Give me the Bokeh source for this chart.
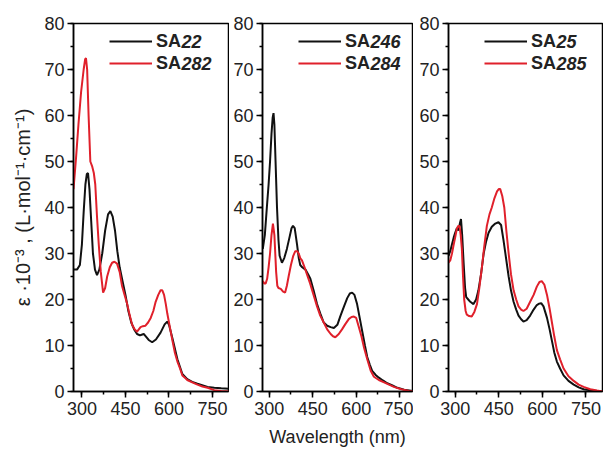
from bokeh.plotting import figure
from bokeh.layouts import row
from bokeh.models import Range1d, SingleIntervalTicker, Legend, LegendItem, Label
from bokeh.embed import file_html
from bokeh.resources import INLINE

# ---------------- data ----------------
sa22_x = [271, 283, 293, 300, 306, 312, 317, 321, 326, 332, 338, 345, 352, 360, 370, 380, 390, 398,
          406, 414, 422, 430, 440, 450, 460, 470, 480, 490, 500, 508, 513, 520, 530, 542, 555, 571,
          585, 594, 600, 612, 629, 646, 663, 680, 698, 733, 756, 780, 806]
sa22_y = [26.5, 26.5, 27.5, 32, 39, 45, 47.3, 47.5, 44, 37, 30, 26.5, 25.3, 26.5, 30, 35, 38.5, 39.2,
          38, 35, 30.5, 27, 24, 21, 17.5, 15, 13.5, 12.5, 12.2, 12.4, 12.5, 12, 11.2, 10.7, 11.3, 12.8,
          14.6, 15.2, 14.5, 11.5, 7, 3.8, 2.7, 2.1, 1.7, 1.0, 0.8, 0.7, 0.6]

sa282_x = [271, 280, 288, 297, 306, 311, 314, 318, 323, 329, 335, 341, 346, 352, 358, 365, 373, 380,
           387, 396, 404, 412, 421, 430, 438, 447, 456, 465, 473, 482, 490, 496, 502, 510, 519, 528,
           537, 546, 554, 563, 571, 577, 583, 589, 594, 603, 612, 620, 629, 638, 646, 655, 663, 680,
           698, 715, 733, 756, 780, 806]
sa282_y = [44, 51, 58, 65, 70, 72.2, 72.5, 70, 60, 50, 49, 47.5, 45, 38, 32, 26, 21.5, 22.5,
           25, 27, 28, 28.2, 27.8, 26, 23, 21, 19, 16.5, 14.5, 13.5, 13, 13.5, 14, 14.2, 14.3, 15,
           16, 17.5, 19.5, 21, 22, 22, 21, 19, 17, 14, 11, 8.5, 6.5, 5, 3.5, 3, 2.5, 2,
           1.5, 1.1, 0.8, 0.3, 0.1, 0]

sa246_x = [278, 285, 292, 298, 303, 308, 312, 315, 318, 322, 327, 332, 336, 344, 352, 361, 370, 377,
           382, 388, 396, 402, 407, 414, 425, 434, 442, 453, 465, 476, 488, 500, 512, 523, 535, 546,
           558, 569, 578, 586, 594, 603, 612, 621, 630, 638, 647, 655, 667, 678, 692, 707, 725, 742,
           765, 795]
sa246_y = [31, 34, 40, 45, 50, 56, 59.5, 60.5, 58, 50, 40, 33, 29.5, 28, 29, 31, 33.5, 35.5,
           36, 35.5, 32, 29, 27.5, 27, 26.5, 25.5, 24.5, 22, 19, 17, 15, 14.3, 14, 13.8, 14.5, 16.5,
           18.5, 20.3, 21.3, 21.5, 21, 19, 16, 13, 10, 7.5, 5.8, 4.5, 3.6, 3, 2.4, 1.8, 1.3, 0.8,
           0.4, 0.1]

sa284_x = [278, 283, 288, 293, 298, 303, 308, 313, 318, 324, 328, 332, 340, 348, 355, 361, 367, 375,
           383, 390, 396, 402, 407, 413, 422, 430, 441, 453, 465, 476, 488, 500, 512, 520, 528, 540,
           551, 563, 575, 584, 592, 600, 609, 618, 627, 638, 650, 661, 678, 696, 713, 730, 755, 782,
           795]
sa284_y = [24, 23.5, 23.5, 24.5, 27, 30, 34, 36.5, 34, 26, 23, 22.5, 22.3, 21.7, 21.5, 23, 25, 27.5,
           29.5, 30.5, 30.5, 30, 29, 28.5, 27, 25.5, 23.5, 21, 18.5, 16.5, 15, 13.5, 12.5, 12, 11.8, 12.5,
           13.5, 14.7, 15.8, 16.2, 16.3, 16, 14, 12, 9.5, 7, 4.5, 3.2, 2.5, 2, 1.5, 1, 0.5, 0.1,
           0]

sa25_x = [277, 283, 289, 295, 300, 306, 311, 316, 320, 324, 329, 334, 338, 345, 352, 363, 372, 380,
          389, 398, 406, 415, 426, 438, 449, 458, 466, 475, 484, 492, 501, 510, 518, 527, 535, 546,
          558, 570, 581, 589, 596, 604, 616, 625, 633, 641, 650, 661, 673, 690, 708, 725, 742, 765,
          788, 807]
sa25_y = [29.5, 30.5, 32, 33.5, 34.5, 35.5, 35, 36.5, 37.5, 34, 28, 22.5, 20.5, 20, 19.5, 19, 20, 22,
          25.5, 30, 32.5, 34.5, 35.8, 36.5, 36.8, 36.2, 33, 29, 25, 22, 19.5, 17.8, 16.5, 15.7, 15.2, 15.5,
          16.5, 17.8, 18.8, 19.1, 19.2, 18.5, 16, 13.5, 11, 8.5, 6.5, 5, 3.5, 2.3, 1.5, 0.9, 0.5, 0.25,
          0.1, 0]

sa285_x = [277, 283, 289, 295, 300, 306, 311, 315, 319, 323, 327, 331, 336, 340, 348, 357, 366, 375,
           383, 392, 400, 409, 418, 426, 435, 444, 450, 455, 462, 469, 476, 484, 492, 501, 510, 518,
           527, 535, 546, 558, 570, 581, 590, 598, 607, 616, 625, 633, 641, 650, 661, 673, 690, 708,
           725, 742, 765, 788, 807]
sa285_y = [28, 28.5, 30, 32, 33.5, 35.5, 36, 36, 34, 31, 25, 20, 17.5, 16.7, 16.4, 16.3, 17.3, 19,
           22.5, 27, 31.5, 36, 38.5, 40, 42, 43.5, 44, 44, 42.5, 40, 35, 30, 25.5, 22, 20, 18.5,
           17.8, 17.5, 18, 19.5, 21, 22.8, 23.8, 24, 23.2, 21, 18, 15, 12, 9, 7, 5, 3.3, 2.3,
           1.5, 1, 0.5, 0.2, 0]

x_ranges = [(271, 805), (277, 794), (277, 807)]
y_range = (0, 80)
names = [("SA", "22", "SA", "282"), ("SA", "246", "SA", "284"), ("SA", "25", "SA", "285")]
series = [(sa22_x, sa22_y, sa282_x, sa282_y),
          (sa246_x, sa246_y, sa284_x, sa284_y),
          (sa25_x, sa25_y, sa285_x, sa285_y)]

y_label = "ε ·10⁻³ , (L·mol⁻¹·cm⁻¹)"
x_label = "Wavelength (nm)"

# ---------------- styling / layout ----------------
FONT = "Liberation Sans"
BLACK = "#111111"
RED = "#e0202b"
TXT = "#222222"
FRAME_H = 368
TOP, BOTTOM = 23, 60
# (figure width, border left, frame width)
geoms = [(229, 73, 155), (184, 33, 150), (190, 35, 154)]

LEG_X = 36
GLYPH_W = 43
STANDOFF = 4
ROW_H = 22
LEG_TOP = 7
SA_W = 25.0  # width of bold "SA" at 18px

figs = []
for i in range(3):
    W, bl, fw = geoms[i]
    p = figure(width=W, height=TOP + FRAME_H + BOTTOM, output_backend="svg", toolbar_location=None,
               x_range=Range1d(*x_ranges[i]), y_range=Range1d(*y_range),
               min_border_left=bl, min_border_right=W - bl - fw, min_border_top=TOP,
               min_border_bottom=BOTTOM)
    p.grid.visible = False
    p.outline_line_color = "black"
    p.outline_line_width = 1.5
    p.background_fill_color = "white"
    p.border_fill_color = "white"

    p.xaxis.ticker = SingleIntervalTicker(interval=150, num_minor_ticks=2)
    p.yaxis.ticker = SingleIntervalTicker(interval=10, num_minor_ticks=2)
    for ax in (p.xaxis[0], p.yaxis[0]):
        ax.axis_line_color = "black"
        ax.axis_line_width = 1.5
        ax.major_tick_line_color = "black"
        ax.major_tick_line_width = 1.5
        ax.minor_tick_line_color = "black"
        ax.minor_tick_line_width = 1.5
        ax.major_tick_in = 0
        ax.major_tick_out = 6
        ax.minor_tick_in = 0
        ax.minor_tick_out = 3
        ax.major_label_text_font = FONT
        ax.major_label_text_font_size = "18px"
        ax.major_label_text_color = TXT
    p.xaxis.major_label_standoff = 4
    p.yaxis.major_label_standoff = 3

    if i == 0:
        p.yaxis.axis_label = y_label
        p.yaxis.axis_label_text_font = FONT
        p.yaxis.axis_label_text_font_size = "20px"
        p.yaxis.axis_label_text_font_style = "normal"
        p.yaxis.axis_label_text_color = TXT
        p.yaxis.axis_label_standoff = 7
    if i == 1:
        p.xaxis.axis_label = x_label
        p.xaxis.axis_label_text_font = FONT
        p.xaxis.axis_label_text_font_size = "18px"
        p.xaxis.axis_label_text_font_style = "normal"
        p.xaxis.axis_label_text_color = TXT
        p.xaxis.axis_label_standoff = 9

    bx, by, rx, ry = series[i]
    r1 = p.line(bx, by, line_color=BLACK, line_width=2)
    r2 = p.line(rx, ry, line_color=RED, line_width=2)

    n = names[i]
    legend = Legend(items=[LegendItem(label=n[0], renderers=[r1]),
                           LegendItem(label=n[2], renderers=[r2])],
                    location=(LEG_X, FRAME_H - LEG_TOP - 2 * ROW_H),
                    padding=0, spacing=0, margin=0,
                    glyph_width=GLYPH_W, glyph_height=ROW_H, label_height=ROW_H,
                    label_standoff=STANDOFF,
                    label_text_font=FONT, label_text_font_size="18px",
                    label_text_font_style="bold", label_text_color=TXT,
                    border_line_color=None, background_fill_alpha=0)
    p.add_layout(legend)
    for k, suffix in enumerate((n[1], n[3])):
        p.add_layout(Label(x=LEG_X + GLYPH_W + STANDOFF + SA_W,
                           y=FRAME_H - LEG_TOP - ROW_H / 2 - k * ROW_H,
                           x_units="screen", y_units="screen", text=suffix,
                           text_font=FONT, text_font_size="18px", text_font_style="bold italic",
                           text_color=TXT, text_baseline="middle", text_align="left"))
    figs.append(p)

layout = row(*figs, spacing=0)
open("out.html", "w").write(file_html(layout, INLINE))
